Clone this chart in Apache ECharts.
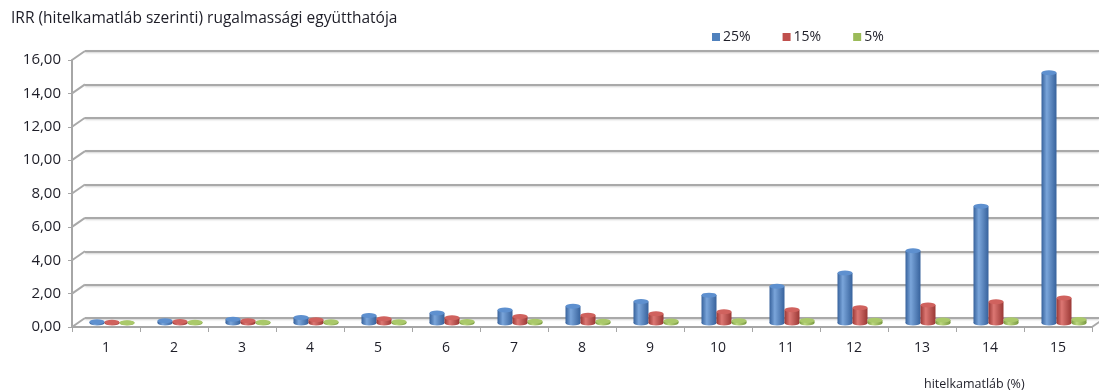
<!DOCTYPE html>
<html>
<head>
<meta charset="utf-8">
<script src="https://cdn.jsdelivr.net/npm/echarts@6/dist/echarts.min.js"></script>
<style>
  html, body { margin: 0; padding: 0; background: #fff; }
  #chart { width: 1099px; height: 392px; }
</style>
</head>
<body>
<div id="chart"></div>
<script>
// Hitelkamatláb (%) categories
const categories = ['1', '2', '3', '4', '5', '6', '7', '8', '9', '10', '11', '12', '13', '14', '15'];
// Elasticity coefficients for the three IRR scenarios
const irr25 = [0.07, 0.14, 0.23, 0.33, 0.45, 0.60, 0.78, 1.00, 1.29, 1.67, 2.20, 3.00, 4.33, 7.00, 15.00];
const irr15 = [0.04, 0.09, 0.14, 0.19, 0.25, 0.32, 0.39, 0.47, 0.56, 0.67, 0.79, 0.92, 1.08, 1.27, 1.50];
const irr5  = [0.02, 0.04, 0.05, 0.07, 0.08, 0.09, 0.10, 0.11, 0.12, 0.14, 0.15, 0.16, 0.18, 0.19, 0.21];
const seriesNames = ['25%', '15%', '5%'];
// Value axis ticks
const yMin = 0, yMax = 16, yStep = 2;

const FONT = 'Open Sans';
const TEXT = '#1e1e28';
const AXIS_GREY = '#a6a6a6';

// Front plane (axes), mid-depth plane (columns), back wall (gridlines)
const front = { left: 72, top: 60, width: 1020, height: 267 };
const mid   = { left: 78, top: 56, width: 1020, height: 267 };
const back  = { left: 85, top: 51, width: 1020, height: 267 };

const palette = [
  { base: '#4F81BD', dark: '#37629c', light: '#7aa5da', cap: '#5e90cf' },
  { base: '#C0504D', dark: '#9a3835', light: '#dc7773', cap: '#d0625e' },
  { base: '#9BBB59', dark: '#7a9a42', light: '#bcd77f', cap: '#aac96a' }
];
const values = [irr25, irr15, irr5];

const fmt = v => v.toFixed(2).replace('.', ',');

const cylinderFill = c => new echarts.graphic.LinearGradient(0, 0, 1, 0, [
  { offset: 0, color: c.dark },
  { offset: 0.35, color: c.light },
  { offset: 1, color: c.dark }
]);

const series = [];
values.forEach((data, i) => {
  const c = palette[i];
  series.push({
    name: seriesNames[i],
    type: 'bar',
    xAxisIndex: 1, yAxisIndex: 1,
    data: data,
    barWidth: 15,
    barGap: '0%',
    z: 3,
    itemStyle: { color: cylinderFill(c) },
    emphasis: { disabled: true }
  });
  series.push({
    name: seriesNames[i] + ' top',
    type: 'pictorialBar',
    xAxisIndex: 1, yAxisIndex: 1,
    data: data,
    symbol: 'circle',
    symbolSize: [15, 5],
    symbolPosition: 'end',
    symbolOffset: [0, '-50%'],
    barWidth: 15,
    barGap: '0%',
    z: 4,
    itemStyle: { color: c.cap },
    emphasis: { disabled: true }
  });
  series.push({
    name: seriesNames[i] + ' base',
    type: 'pictorialBar',
    xAxisIndex: 2, yAxisIndex: 1,
    data: data,
    symbol: 'circle',
    symbolSize: [15, 5],
    symbolPosition: 'start',
    symbolOffset: [0, '50%'],
    barWidth: 15,
    barGap: '0%',
    z: 2,
    itemStyle: { color: cylinderFill(c) },
    emphasis: { disabled: true }
  });
});

const hiddenCat = (gridIndex, position) => ({
  type: 'category', gridIndex, position, data: categories,
  show: false, axisLine: { show: false }, axisTick: { show: false }
});
const hiddenVal = (gridIndex) => ({
  type: 'value', gridIndex, min: yMin, max: yMax, interval: yStep,
  axisLine: { show: false }, axisTick: { show: false },
  axisLabel: { show: false }, splitLine: { show: false }
});

const chart = echarts.init(document.getElementById('chart'), null, { renderer: 'canvas' });

chart.setOption({
  animation: false,
  backgroundColor: '#ffffff',
  textStyle: { fontFamily: FONT },
  title: [
    {
      text: 'IRR (hitelkamatláb szerinti) rugalmassági együtthatója',
      left: 6, top: 6,
      textStyle: { fontFamily: FONT, fontSize: 15.5, fontWeight: 'normal', color: TEXT }
    },
    {
      text: 'hitelkamatláb (%)',
      left: 919, top: 373,
      textStyle: { fontFamily: FONT, fontSize: 12.5, fontWeight: 'normal', color: TEXT }
    }
  ],
  legend: {
    left: 707, top: 25,
    itemWidth: 8, itemHeight: 8, itemGap: 32,
    icon: 'rect',
    selectedMode: false,
    textStyle: { fontFamily: FONT, fontSize: 14, color: TEXT, padding: [0, 0, 0, -2] },
    data: seriesNames.map((n, i) => ({ name: n, itemStyle: { color: palette[i].base } }))
  },
  grid: [
    Object.assign({ containLabel: false }, front),
    Object.assign({ containLabel: false }, mid),
    Object.assign({ containLabel: false }, back)
  ],
  xAxis: [
    {
      type: 'category', gridIndex: 0, data: categories,
      boundaryGap: true,
      axisLine: { show: true, lineStyle: { color: AXIS_GREY, width: 2 } },
      axisTick: { show: true, alignWithLabel: false, length: 5, lineStyle: { color: AXIS_GREY, width: 1 } },
      axisLabel: { fontFamily: FONT, fontSize: 14, color: TEXT, margin: 14 }
    },
    hiddenCat(1, 'bottom'),
    hiddenCat(1, 'top'),
    hiddenCat(2, 'bottom')
  ],
  yAxis: [
    {
      type: 'value', gridIndex: 0, min: yMin, max: yMax, interval: yStep,
      axisLine: { show: true, lineStyle: { color: AXIS_GREY, width: 2 } },
      axisTick: { show: true, length: 4, lineStyle: { color: AXIS_GREY, width: 1 } },
      axisLabel: { fontFamily: FONT, fontSize: 15, color: TEXT, margin: 11, formatter: fmt },
      splitLine: { show: false }
    },
    hiddenVal(1),
    {
      type: 'value', gridIndex: 2, min: yMin, max: yMax, interval: yStep,
      axisLine: { show: false }, axisTick: { show: false }, axisLabel: { show: false },
      splitLine: {
        show: true,
        lineStyle: { color: '#a9a9a9', width: 2, shadowColor: 'rgba(0,0,0,0.18)', shadowBlur: 2, shadowOffsetY: 1 }
      }
    }
  ],
  series: series
});

// Perspective edges joining the front axis ticks with the back-wall gridlines
const edges = [];
for (let v = yMin; v <= yMax; v += yStep) {
  const yf = chart.convertToPixel({ yAxisIndex: 0 }, v);
  const yb = chart.convertToPixel({ yAxisIndex: 2 }, v);
  edges.push({
    type: 'line', z: 1, silent: true,
    shape: { x1: front.left, y1: yf, x2: back.left, y2: yb },
    style: { stroke: '#a9a9a9', lineWidth: 2 }
  });
}
// Right-hand edge of the floor
const yf0 = chart.convertToPixel({ yAxisIndex: 0 }, yMin);
const yb0 = chart.convertToPixel({ yAxisIndex: 2 }, yMin);
edges.push({
  type: 'line', z: 1, silent: true,
  shape: { x1: front.left + front.width, y1: yf0, x2: back.left + back.width, y2: yb0 },
  style: { stroke: '#a9a9a9', lineWidth: 2 }
});
chart.setOption({ graphic: edges });
</script>
</body>
</html>
